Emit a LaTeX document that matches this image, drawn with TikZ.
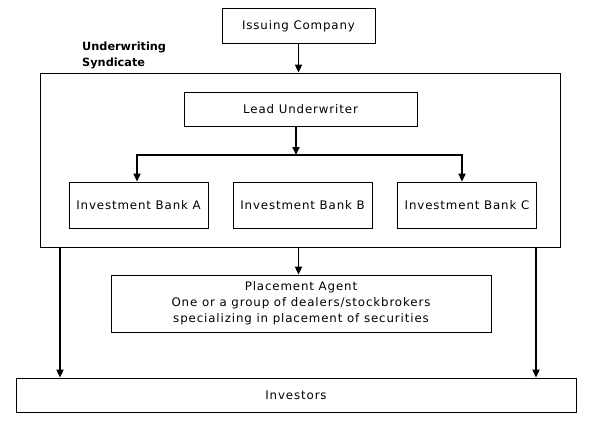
\documentclass[tikz,border=0pt]{standalone}
\usepackage{fontspec}
\setmainfont{DejaVu Sans}[LetterSpace=7.5]
\newfontfamily\labelfont{DejaVu Sans}
\usetikzlibrary{arrows.meta, positioning}

\begin{document}
\begin{tikzpicture}[x=1pt, y=-1pt,
  font=\fontsize{11.8}{16}\selectfont,
  >={Triangle[width=7pt, length=8pt]},
  box/.style={draw, line width=0.8pt, inner sep=0pt, align=center},
  flow/.style={->, line width=1.8pt}]
\useasboundingbox (0,0) rectangle (594,433);

% ---- issuer ----
\node[box, minimum width=153pt, minimum height=35pt] (issuer) at (298.5,26) {Issuing Company};

% ---- syndicate frame ----
\node[box, minimum width=520pt, minimum height=174pt] (synd) at (300,160) {};
\node[anchor=north west, inner sep=0pt, align=left,
      font=\labelfont\fontsize{11.3}{16}\selectfont\bfseries] (syndlbl) at (82,41.4)
      {Underwriting\\Syndicate};
\draw[flow] (issuer.south) -- (issuer.south |- synd.north);

% ---- lead and banks ----
\node[box, minimum width=233pt, minimum height=34pt] (lead) at (300.5,109) {Lead Underwriter};
\foreach \n/\x in {A/138.5, B/302.5, C/467}{
  \node[box, minimum width=139pt, minimum height=46pt] (bank\n) at (\x,205) {Investment Bank \n};
}
\coordinate (fork)  at (296,155);
\coordinate (forkA) at (137,155);
\coordinate (forkC) at (462,155);
\draw[flow] (lead.south -| fork) -- (fork);
\draw[flow, <->] (forkA |- bankA.north) -- (forkA) -- (forkC) -- (forkC |- bankC.north);

% ---- placement and investors ----
\node[box, minimum width=380pt, minimum height=57pt] (agent) at (301,303.5)
  {Placement Agent\\One or a group of dealers/stockbrokers\\specializing in placement of securities};
\node[box, minimum width=560pt, minimum height=34pt] (investors) at (296,395) {Investors};

\draw[flow] (synd.south -| issuer.south) -- (agent.north -| issuer.south);
\foreach \x in {60, 536}{
  \draw[flow] (\x,0 |- synd.south) -- (\x,0 |- investors.north);
}

\end{tikzpicture}
\end{document}
